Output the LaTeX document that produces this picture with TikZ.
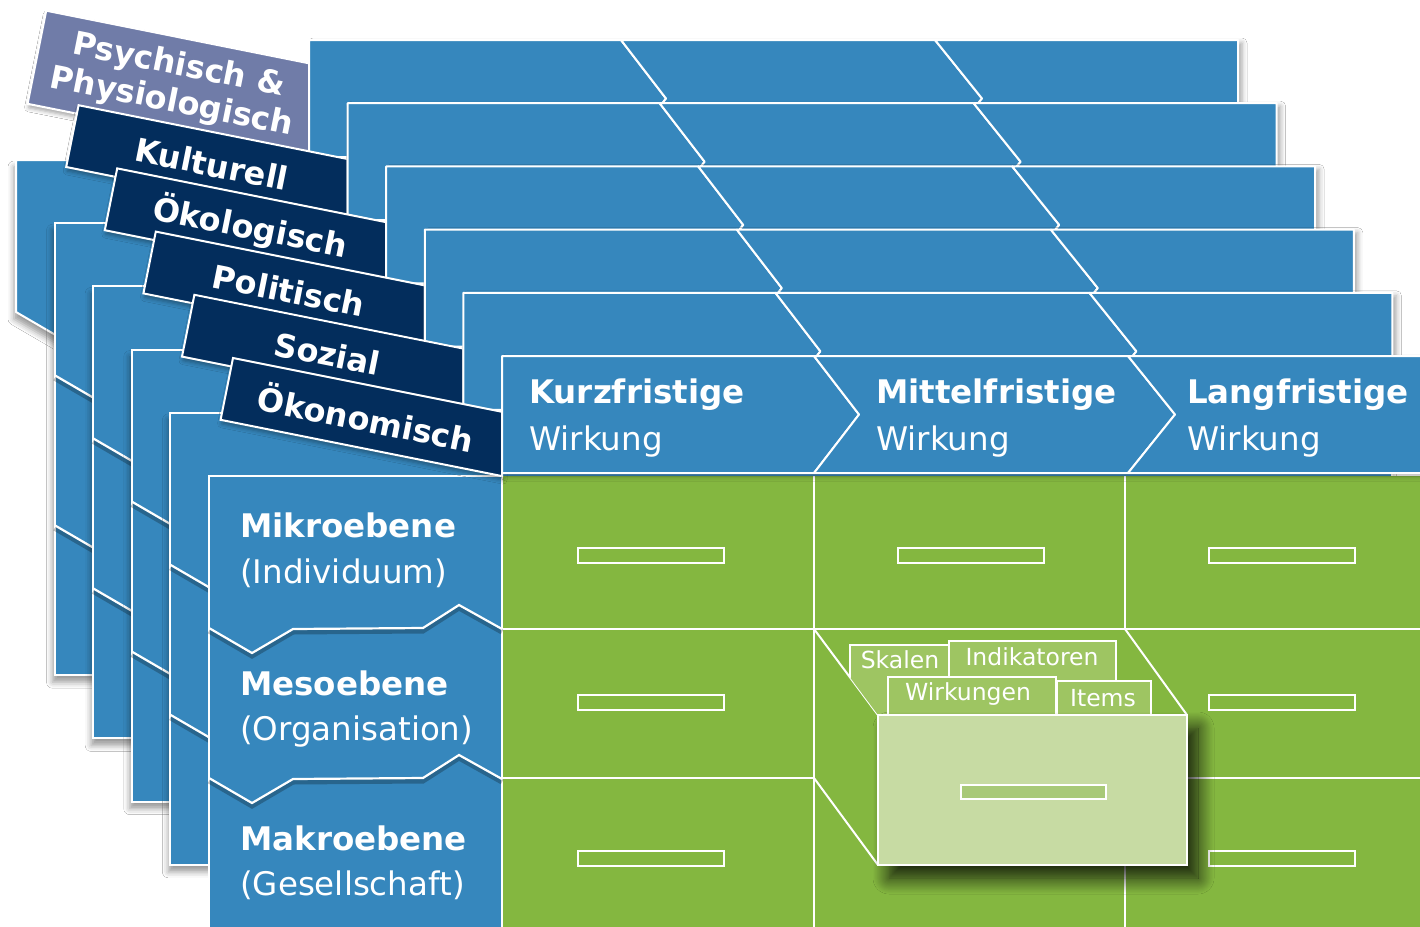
\documentclass[tikz,border=0pt]{standalone}
\usepackage{fontspec}
\setmainfont{DejaVu Sans}
\usetikzlibrary{shadows.blur}
\definecolor{hblue}{RGB}{54,135,189}
\definecolor{navy}{RGB}{3,45,92}
\definecolor{lav}{RGB}{112,124,168}
\definecolor{grn}{RGB}{132,183,64}
\definecolor{boxface}{RGB}{199,219,163}
\definecolor{cardg}{RGB}{158,197,98}
\definecolor{slotg}{RGB}{168,201,120}
\newcommand\fsBig{\fontsize{32.5}{38}\selectfont}
\newcommand\fsTab{\fontsize{32}{40}\selectfont}
\newcommand\fsCard{\fontsize{23.5}{27}\selectfont}
\newcommand\drawheader{%
  \path[hdrsh] (502,356) rectangle (1431,473);
  \path[hdr] (502,356) -- (814,356) -- (859,414.5) -- (814,473) -- (502,473) -- cycle;
  \path[hdr] (814,356) -- (1128,356) -- (1175,414.5) -- (1128,473) -- (814,473) -- (859,414.5) -- cycle;
  \path[hdr] (1128,356) -- (1431,356) -- (1431,473) -- (1128,473) -- (1175,414.5) -- cycle;}
\begin{document}
\begin{tikzpicture}[x=1pt,y=-1pt,
  body/.style={fill=hblue, draw=white, line width=2pt},
  hdr/.style={fill=hblue, draw=white, line width=2pt, line join=bevel},
  hdrsh/.style={fill=hblue, blur shadow={shadow xshift=4pt, shadow yshift=-3pt, shadow blur radius=5pt, shadow opacity=35}},
  bodysh/.style={blur shadow={shadow xshift=-2pt, shadow yshift=-7pt, shadow blur radius=6pt, shadow opacity=40}},
  zig/.style={draw=white, line width=2.2pt, line join=miter},
  zigsh/.style={draw=black, opacity=.25, line width=5pt, yshift=-3pt},
  tabn/.style={fill=navy, draw=white, line width=2pt, line join=miter, blur shadow={shadow xshift=1pt, shadow yshift=-4pt, shadow blur radius=4pt, shadow opacity=35}},
  tabt/.style={text=white, font=\fsTab\bfseries, rotate=-11.3, align=center, inner sep=0pt},
  lbl/.style={text=white, anchor=base west, inner sep=0pt, font=\fsBig},
  grid/.style={draw=white, line width=2pt},
  slot/.style={draw=white, line width=1.8pt},
  card/.style={fill=cardg, draw=white, line width=1.6pt},
  cardt/.style={text=white, font=\fsCard, inner sep=0pt},
]
\useasboundingbox (0,0) rectangle (1420,926);
\fill[white] (0,0) rectangle (1420,926);
\clip (0,0) rectangle (1420,926);

% ---------- layer 0 : Psychisch & Physiologisch
\begin{scope}[shift={(-193,-316)}]
  \path[body, bodysh] (209,476) -- (1431,476) -- (1431,629) -- (502,629) -- (459,605) -- (423,628) -- (293,629) -- (252,653) -- (209,628) -- cycle;
  \path[tabn, fill=lav] (239.2,326.7) -- (502,379.3) -- (502,476.1) -- (220.6,419.8) -- cycle;
  \node[tabt] (tab0) at (368,400.5) {Psychisch \&\\[-3pt]Physiologisch};
  \drawheader
\end{scope}

% ---------- layers 1..4
\foreach \k/\lab in {1/Kulturell,2/Ökologisch,3/Politisch,4/Sozial}{
  \begin{scope}[shift={({-38.6*(5-\k)},{-63.2*(5-\k)})}]
    \path[body, bodysh] (209,476) rectangle (1431,928);
    \draw[zigsh] (209,628) -- (252,653) -- (293,629) -- (423,628) -- (459,605) -- (502,629);
    \draw[zig] (209,628) -- (252,653) -- (293,629) -- (423,628) -- (459,605) -- (502,629);
    \draw[zigsh] (209,778) -- (252,803) -- (293,779) -- (423,778) -- (459,755) -- (502,779);
    \draw[zig] (209,778) -- (252,803) -- (293,779) -- (423,778) -- (459,755) -- (502,779);
    \path[tabn] (233,358) -- (502,411.8) -- (502,476.1) -- (220.6,419.8) -- cycle;
    \node[tabt] (tab\k) at (366,417) {\lab};
    \drawheader
  \end{scope}
}

% ---------- front layer : Ökonomisch
\path[fill=grn] (502,476) rectangle (1431,928);
\draw[grid] (502,629) -- (1431,629);
\draw[grid] (502,778) -- (1431,778);
\draw[grid] (1125,476) -- (1125,928);
\draw[grid] (814,476) -- (814,928);
\foreach \cx/\cy in {578/548, 898/548, 1209/548, 578/695, 1209/695, 578/851, 1209/851}
  \draw[slot] (\cx,\cy) rectangle ++(146,15);

% card-file box
\fill[grn] (814,629) -- (1125,629) -- (1187,715) -- (1187,865) -- (878,865) -- (814,778) -- cycle;
\draw[grid] (814,476) -- (814,928);
\draw[grid] (814,629) -- (1125,629);
\draw[grid] (814,629) -- (878,715);
\draw[grid] (814,778) -- (878,865);
\draw[grid] (1125,629) -- (1187,715);
\begin{scope}
  \clip (814,629) -- (1125,629) -- (1187,715) -- (878,715) -- cycle;
  \path[card] (850,645) rectangle (950,722);
  \node[cardt] (skalen) at (900,660) {Skalen};
  \path[card] (949,641) rectangle (1116,722);
  \node[cardt] (indik) at (1032,657) {Indikatoren};
  \path[card] (888,677) rectangle (1056,722);
  \node[cardt] (wirk) at (968,694) {Wirkungen};
  \path[card] (1057,681) rectangle (1151,722);
  \node[cardt] (items) at (1103,698) {Items};
\end{scope}
\path[fill=boxface, draw=white, line width=2pt, blur shadow={shadow xshift=11pt, shadow yshift=-13pt, shadow blur radius=16pt, shadow blur steps=20, shadow opacity=85}] (878,715) rectangle (1187,865);
\path[fill=slotg, draw=white, line width=1.5pt] (961,785) rectangle (1106,799);

% left column
\path[body] (209,476) rectangle (502,928);
\draw[zigsh] (209,628) -- (252,653) -- (293,629) -- (423,628) -- (459,605) -- (502,629);
\draw[zig] (209,628) -- (252,653) -- (293,629) -- (423,628) -- (459,605) -- (502,629);
\draw[zigsh] (209,778) -- (252,803) -- (293,779) -- (423,778) -- (459,755) -- (502,779);
\draw[zig] (209,778) -- (252,803) -- (293,779) -- (423,778) -- (459,755) -- (502,779);
\node[lbl, font=\fsBig\bfseries] (mikro) at (240,537) {Mikroebene};
\node[lbl] (indiv) at (240,583) {(Individuum)};
\node[lbl, font=\fsBig\bfseries] (meso) at (240,695) {Mesoebene};
\node[lbl] (orga) at (240,740) {(Organisation)};
\node[lbl, font=\fsBig\bfseries] (makro) at (240,850) {Makroebene};
\node[lbl] (gesell) at (240,895) {(Gesellschaft)};

% tab and header
\path[tabn] (233,358) -- (502,411.8) -- (502,476.1) -- (220.6,419.8) -- cycle;
\node[tabt] (tab5) at (366,417) {Ökonomisch};
\drawheader
\node[lbl, font=\fsBig\bfseries] (kurz) at (529,403) {Kurzfristige};
\node[lbl] (kurzw) at (529,450) {Wirkung};
\node[lbl, font=\fsBig\bfseries] (mittel) at (876,403) {Mittelfristige};
\node[lbl] (mittelw) at (876,450) {Wirkung};
\node[lbl, font=\fsBig\bfseries] (lang) at (1187,403) {Langfristige};
\node[lbl] (langw) at (1187,450) {Wirkung};
\end{tikzpicture}
\end{document}
